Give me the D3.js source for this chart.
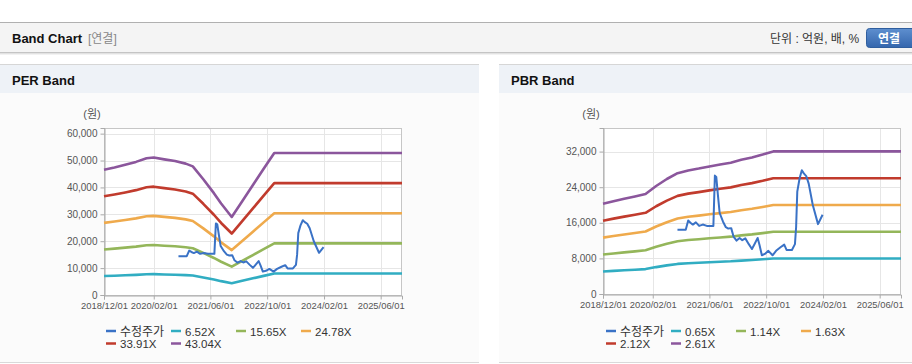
<!DOCTYPE html>
<html><head><meta charset="utf-8">
<script src="https://cdn.jsdelivr.net/npm/d3@7"></script>
<style>
body{margin:0;background:#fff;}
svg{display:block;font-family:"Liberation Sans","Noto Sans CJK KR",Arial,sans-serif;}
</style>
</head><body>
<svg id="c" width="912" height="364"></svg>
<script>
// ---------- DATA ----------
const xTickLabels = ["2018/12/01","2020/02/01","2021/06/01","2022/10/01","2024/02/01","2025/06/01"];
const perYTicks = [0,10000,20000,30000,40000,50000,60000];
const pbrYTicks = [0,8000,16000,24000,32000];

const priceDates = ["2020-08-31","2020-10-01","2020-11-10","2020-12-01","2020-12-20","2021-01-10","2021-02-05","2021-03-05","2021-04-05","2021-05-10","2021-06-10","2021-07-05","2021-07-18","2021-07-30","2021-08-12","2021-08-28","2021-09-25","2021-10-20","2021-11-10","2021-12-05","2021-12-25","2022-01-20","2022-02-15","2022-03-10","2022-04-05","2022-05-05","2022-06-01","2022-06-25","2022-07-20","2022-08-05","2022-08-25","2022-09-20","2022-10-20","2022-11-25","2022-12-25","2023-02-01","2023-03-05","2023-03-25","2023-05-10","2023-06-05","2023-06-15","2023-06-25","2023-07-15","2023-08-03","2023-08-20","2023-09-10","2023-10-01","2023-11-05","2023-12-20","2024-01-28"];
const priceValues = [14450,14450,14450,16500,16000,15600,16100,15300,15600,15300,15300,15300,26600,26300,22500,18200,16300,15000,14700,14800,12900,12000,12600,12100,12500,11200,10100,11300,12600,11000,8700,9000,9700,8700,9700,10500,11100,9900,9900,11200,15000,23000,26000,27800,27100,26500,24800,20000,15700,17800];

const perBandDates = ["2018-12-01","2019-03-01","2019-06-01","2019-09-01","2019-12-01","2020-02-01","2020-05-01","2020-08-01","2020-11-01","2021-01-01","2021-04-01","2021-07-01","2021-09-01","2021-12-01","2022-03-01","2022-06-01","2022-09-01","2022-12-01","2025-12-01"];
const per652 = [7055,7185,7335,7498,7707,7746,7641,7544,7400,7244,6520,5738,5151,4394,5281,6194,7107,8000,8000];
const per1565 = [16933,17246,17606,17998,18498,18592,18342,18107,17763,17387,15650,13772,12364,10548,12677,14868,17059,19203,19203];
const per2478 = [26812,27308,27878,28497,29290,29439,29042,28670,28125,27531,24780,21806,19576,16702,20072,23541,27010,30405,30405];
const per3391 = [36691,37369,38149,38997,40082,40285,39743,39234,38488,37674,33910,29841,26789,22855,27467,32215,36962,41608,41608];
const per4304 = [46569,47430,48420,49496,50873,51132,50443,49797,48850,47817,43040,37875,34002,29009,34862,40888,46914,52810,52810];
const perLabels = ["수정주가","6.52X","15.65X","24.78X","33.91X","43.04X"];

const pbrBandDates = ["2018-12-01","2019-03-01","2019-06-01","2019-09-01","2019-12-01","2020-03-01","2020-06-01","2020-09-01","2020-12-01","2021-03-01","2021-06-01","2021-09-01","2021-12-01","2022-03-01","2022-06-01","2022-09-01","2022-12-01","2025-12-01"];
const pbr065 = [5053,5194,5330,5460,5596,6045,6435,6760,6916,7020,7140,7248,7345,7508,7638,7800,7979,7979];
const pbr114 = [8862,9109,9348,9576,9814,10602,11286,11856,12130,12312,12523,12711,12882,13167,13395,13680,13995,13995];
const pbr163 = [12672,13024,13366,13692,14033,15159,16137,16952,17343,17604,17906,18175,18419,18827,19153,19560,20010,20010];
const pbr212 = [16481,16939,17384,17808,18251,19716,20988,22048,22557,22896,23288,23638,23956,24486,24910,25440,26025,26025];
const pbr261 = [20290,20854,21402,21924,22469,24273,25839,27144,27770,28188,28671,29102,29493,30146,30668,31320,32040,32040];
const pbrLabels = ["수정주가","0.65X","1.14X","1.63X","2.12X","2.61X"];

const colors = ["#3a72c6","#31adc2","#94b65a","#efaa4c","#c13b2d","#8b569c"];

// ---------- LAYOUT / FRAME ----------
const svg = d3.select("#c");
const parse = d3.timeParse("%Y-%m-%d");
const parseTick = d3.timeParse("%Y/%m/%d");

svg.append("rect").attr("x",0).attr("y",0).attr("width",912).attr("height",364).attr("fill","#fff");
svg.append("rect").attr("x",0).attr("y",22).attr("width",912).attr("height",1).attr("fill","#b0b0b0");
svg.append("rect").attr("x",0).attr("y",23).attr("width",912).attr("height",29).attr("fill","#f4f4f4");
svg.append("rect").attr("x",0).attr("y",52).attr("width",912).attr("height",1).attr("fill","#c4c4c4");
svg.append("rect").attr("x",0).attr("y",53).attr("width",912).attr("height",1).attr("fill","#e2e2e2");
svg.append("rect").attr("x",0).attr("y",54).attr("width",912).attr("height",1).attr("fill","#f2f2f2");

svg.append("text").attr("x",12).attr("y",43).attr("font-size",13).attr("font-weight","bold").attr("fill","#111").text("Band Chart");
svg.append("text").attr("x",88).attr("y",43).attr("font-size",12).attr("fill","#888").text("[연결]");
svg.append("text").attr("x",770).attr("y",43).attr("font-size",12).attr("fill","#333").text("단위 : 억원, 배, %");

const defs = svg.append("defs");
const g = defs.append("linearGradient").attr("id","btn").attr("x1",0).attr("y1",0).attr("x2",0).attr("y2",1);
g.append("stop").attr("offset","0%").attr("stop-color","#5e8fcf");
g.append("stop").attr("offset","100%").attr("stop-color","#3466ad");
svg.append("rect").attr("x",866.5).attr("y",28.5).attr("width",50).attr("height",19).attr("rx",3)
  .attr("fill","url(#btn)").attr("stroke","#2f5e9e");
svg.append("text").attr("x",889).attr("y",43).attr("text-anchor","middle").attr("font-size",12)
  .attr("font-weight","bold").attr("fill","#fff").text("연결");

function panel(x, w, title){
  svg.append("rect").attr("x",x).attr("y",64).attr("width",w).attr("height",1).attr("fill","#d6d6d6");
  svg.append("rect").attr("x",x).attr("y",65).attr("width",w).attr("height",28).attr("fill","#eef2f7");
  svg.append("rect").attr("x",x).attr("y",93).attr("width",w).attr("height",269).attr("fill","#fbfbfb");
  svg.append("rect").attr("x",x).attr("y",362).attr("width",w).attr("height",1).attr("fill","#d9d9d9");
  svg.append("text").attr("x",x+12).attr("y",85).attr("font-size",13).attr("font-weight","bold").attr("fill","#111").text(title);
}
panel(0,479,"PER Band");
panel(499,413,"PBR Band");

// ---------- CHART ----------
function chart(o){
  const x = d3.scaleTime().domain([parse("2018-12-01"), parse("2025-12-01")]).range([o.left, o.right]);
  const y = d3.scaleLinear().domain([0, o.yMax]).range([o.bottom, o.top]);
  const gc = svg.append("g");
  gc.append("rect").attr("x",o.left).attr("y",o.top).attr("width",o.right-o.left).attr("height",o.bottom-o.top).attr("fill","#fff");
  const xt = xTickLabels.map(parseTick);
  // grid
  gc.selectAll(null).data(o.yTicks).enter().append("line")
    .attr("x1",o.left).attr("x2",o.right).attr("y1",d=>Math.round(y(d))+0.5).attr("y2",d=>Math.round(y(d))+0.5)
    .attr("stroke","#e6e6e6");
  gc.selectAll(null).data(xt).enter().append("line")
    .attr("y1",o.top).attr("y2",o.bottom).attr("x1",d=>Math.round(x(d))+0.5).attr("x2",d=>Math.round(x(d))+0.5)
    .attr("stroke","#e6e6e6");
  // frame
  gc.append("rect").attr("x",o.left+0.5).attr("y",o.top+0.5).attr("width",o.right-o.left-1).attr("height",o.bottom-o.top)
    .attr("fill","none").attr("stroke","#c6c6c6");
  // axes
  const ya = d3.axisLeft(y).tickValues(o.yTicks).tickSize(4).tickPadding(3).tickFormat(d3.format(","));
  const ax = gc.append("g").attr("transform",`translate(${o.left+0.5},0)`).call(ya);
  ax.select(".domain").attr("stroke","#aaa");
  ax.selectAll(".tick line").attr("stroke","#aaa");
  ax.selectAll("text").attr("font-size",10).attr("fill","#555").attr("font-family","Liberation Sans, Arial, sans-serif");
  const xa = d3.axisBottom(x).tickValues(xt).tickSize(4).tickPadding(3).tickFormat((d,i)=>xTickLabels[i]);
  const bx = gc.append("g").attr("transform",`translate(0,${o.bottom+0.5})`).call(xa);
  bx.select(".domain").attr("stroke","#aaa");
  bx.selectAll(".tick line").attr("stroke","#aaa");
  bx.selectAll("text").attr("font-size",9.4).attr("fill","#555").attr("font-family","Liberation Sans, Arial, sans-serif");
  gc.append("text").attr("x",o.left-12).attr("y",o.top-10).attr("font-size",11).attr("fill","#555").attr("text-anchor","middle").text("(원)");

  // lines
  const line = d3.line().x(d=>x(d[0])).y(d=>y(d[1]));
  const bandDates = o.bandDates.map(parse);
  o.bands.forEach((vals,i)=>{
    gc.append("path").datum(bandDates.map((d,j)=>[d,vals[j]]))
      .attr("d",line).attr("fill","none").attr("stroke",colors[i+1]).attr("stroke-width",2.6).attr("stroke-linejoin","round");
  });
  const pd = priceDates.map(parse);
  gc.append("path").datum(pd.map((d,j)=>[d,priceValues[j]]))
    .attr("d",line).attr("fill","none").attr("stroke",colors[0]).attr("stroke-width",2).attr("stroke-linejoin","round");

  // legend
  const lg = gc.append("g");
  o.labels.forEach((lab,i)=>{
    const row = Math.floor(i/4), col = i%4;
    const lx = o.legendX + col*65, ly = 331 + row*12.5;
    lg.append("line").attr("x1",lx).attr("x2",lx+10).attr("y1",ly).attr("y2",ly).attr("stroke",colors[i]).attr("stroke-width",2.5);
    lg.append("text").attr("x",lx+14).attr("y",ly+4.5).attr("font-size",i===0?12:11.5).attr("fill","#333").text(lab);
  });
}

chart({left:104, right:402, top:128, bottom:295, yMax:62100, yTicks:perYTicks,
  bandDates:perBandDates, bands:[per652,per1565,per2478,per3391,per4304], labels:perLabels, legendX:106});
chart({left:603, right:901, top:128, bottom:294, yMax:37300, yTicks:pbrYTicks,
  bandDates:pbrBandDates, bands:[pbr065,pbr114,pbr163,pbr212,pbr261], labels:pbrLabels, legendX:606});
</script>
</body></html>
